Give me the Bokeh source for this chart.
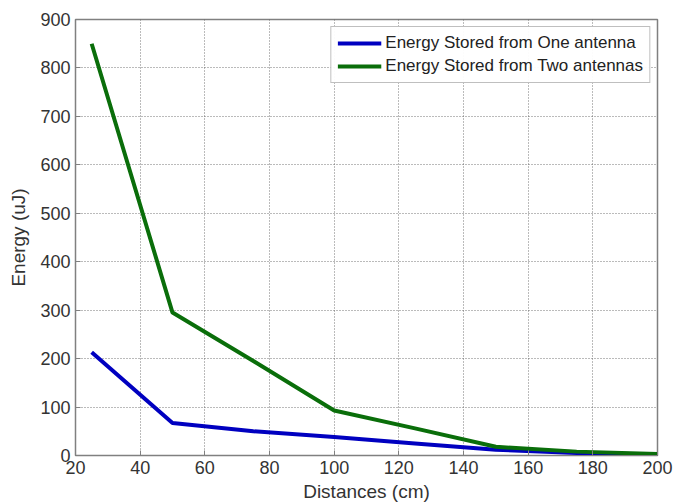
from bokeh.plotting import figure
from bokeh.models import Range1d, FixedTicker, Legend, LegendItem
from bokeh.embed import file_html
from bokeh.resources import INLINE

distances = [25, 50, 75, 100, 125, 150, 175, 200]
one_antenna = [213, 67, 50, 38, 25, 12, 5, 2]
two_antennas = [850, 295, 195, 93, 56, 18, 8, 3]
x_ticks = [20, 40, 60, 80, 100, 120, 140, 160, 180, 200]
y_ticks = [0, 100, 200, 300, 400, 500, 600, 700, 800, 900]

FONT = "Liberation Sans"
GRAY = "#808080"

p = figure(frame_width=582, frame_height=436, output_backend="svg", toolbar_location=None,
           x_range=Range1d(20, 200), y_range=Range1d(0, 900),
           min_border_left=75, min_border_top=19, min_border_right=28, min_border_bottom=46)
p.outline_line_color = GRAY
p.outline_line_width = 1.5

l1 = p.line(distances, one_antenna, line_color="#0000c0", line_width=4)
l2 = p.line(distances, two_antennas, line_color="#0a6e0a", line_width=4)

for ax in (p.xaxis[0], p.yaxis[0]):
    ax.major_tick_in = 5
    ax.major_tick_out = 0
    ax.minor_tick_in = 0
    ax.minor_tick_out = 0
    ax.axis_line_color = GRAY
    ax.major_tick_line_color = GRAY
    ax.major_label_text_font = FONT
    ax.major_label_text_font_size = "18px"
    ax.major_label_text_color = "#333333"
    ax.axis_label_text_font = FONT
    ax.axis_label_text_font_size = "19px"
    ax.axis_label_text_font_style = "normal"
    ax.axis_label_text_color = "#333333"

p.xaxis[0].ticker = FixedTicker(ticks=x_ticks)
p.yaxis[0].ticker = FixedTicker(ticks=y_ticks)
p.xaxis[0].axis_label = "Distances (cm)"
p.yaxis[0].axis_label = "Energy (uJ)"
p.xaxis[0].axis_label_standoff = 4
p.yaxis[0].axis_label_standoff = 8
p.xaxis[0].major_label_standoff = 5
p.yaxis[0].major_label_standoff = 5

p.xgrid.ticker = FixedTicker(ticks=x_ticks)
p.ygrid.ticker = FixedTicker(ticks=y_ticks)
for g in (p.xgrid[0], p.ygrid[0]):
    g.grid_line_color = "#555555"
    g.grid_line_dash = "1 2"
    g.grid_line_width = 1
    g.grid_line_alpha = 0.8

legend = Legend(items=[LegendItem(label="Energy Stored from One antenna", renderers=[l1]),
                       LegendItem(label="Energy Stored from Two antennas", renderers=[l2])],
                location="top_right")
legend.label_text_font = FONT
legend.label_text_font_size = "17px"
legend.label_text_color = "#222222"
legend.border_line_color = GRAY
legend.border_line_width = 1.5
legend.glyph_width = 44
legend.glyph_height = 14
legend.label_height = 14
legend.spacing = 3
legend.padding = 6
legend.margin = 7
legend.label_standoff = 4
p.add_layout(legend)

open("out.html", "w").write(file_html(p, INLINE))
